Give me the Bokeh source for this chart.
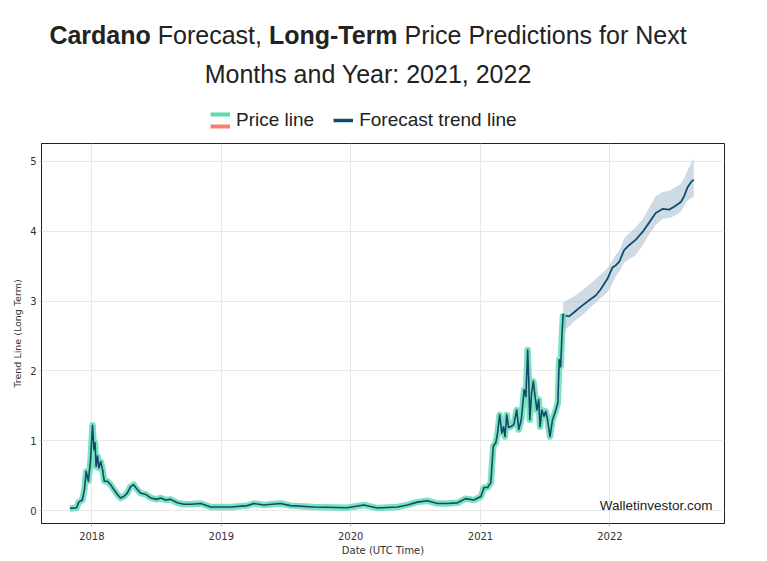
import pandas as pd
from bokeh.plotting import figure
from bokeh.models import (Div, Legend, LegendItem, Label, FixedTicker,
                          DatetimeTickFormatter, Range1d)
from bokeh.layouts import column
from bokeh.embed import file_html
from bokeh.resources import INLINE

# ---------------- data ----------------
price_dates = [
    "2017-10-31", "2017-11-19", "2017-11-25", "2017-12-05", "2017-12-11", "2017-12-16",
    "2017-12-22", "2017-12-28", "2018-01-03", "2018-01-07", "2018-01-10", "2018-01-13",
    "2018-01-17", "2018-01-21", "2018-01-26", "2018-01-31", "2018-02-05", "2018-02-14",
    "2018-02-23", "2018-03-04", "2018-03-14", "2018-03-23", "2018-04-01", "2018-04-11",
    "2018-04-20", "2018-04-29", "2018-05-09", "2018-05-18", "2018-06-02", "2018-06-16",
    "2018-07-04", "2018-07-14", "2018-07-28", "2018-08-11", "2018-08-30", "2018-09-18",
    "2018-10-07", "2018-11-04", "2018-12-02", "2018-12-31", "2019-01-27", "2019-03-15",
    "2019-04-03", "2019-05-01", "2019-06-17", "2019-07-15", "2019-09-19", "2019-12-22",
    "2020-02-07", "2020-03-16", "2020-05-12", "2020-06-09", "2020-07-07", "2020-08-04",
    "2020-09-01", "2020-09-30", "2020-10-28", "2020-11-20", "2020-12-13", "2021-01-02",
    "2021-01-11", "2021-01-21", "2021-01-30", "2021-02-06", "2021-02-13", "2021-02-18",
    "2021-02-24", "2021-03-02", "2021-03-07", "2021-03-11", "2021-03-16", "2021-03-21",
    "2021-03-27", "2021-04-05", "2021-04-13", "2021-04-19", "2021-04-26", "2021-05-04",
    "2021-05-09", "2021-05-14", "2021-05-17", "2021-05-20", "2021-05-25", "2021-05-30",
    "2021-06-04", "2021-06-09", "2021-06-14", "2021-06-18", "2021-06-23", "2021-06-29",
    "2021-07-04", "2021-07-09", "2021-07-16", "2021-07-23", "2021-07-30", "2021-08-07",
    "2021-08-11", "2021-08-15", "2021-08-19", "2021-08-22",
]
price_values = [
    0.03, 0.04, 0.12, 0.15, 0.30, 0.56,
    0.42, 0.70, 1.22, 0.87, 0.97, 0.63,
    0.78, 0.61, 0.70, 0.59, 0.42, 0.42,
    0.37, 0.30, 0.23, 0.18, 0.20, 0.25,
    0.34, 0.37, 0.30, 0.25, 0.23, 0.18,
    0.16, 0.18, 0.15, 0.16, 0.11, 0.09,
    0.09, 0.10, 0.05, 0.05, 0.05, 0.07,
    0.10, 0.08, 0.10, 0.07, 0.05, 0.04,
    0.08, 0.035, 0.05, 0.08, 0.12, 0.14,
    0.10, 0.10, 0.11, 0.17, 0.15, 0.20,
    0.33, 0.33, 0.40, 0.92, 0.97, 1.11,
    1.37, 1.11, 1.20, 1.06, 1.37, 1.19,
    1.20, 1.23, 1.44, 1.16, 1.30, 1.73,
    1.63, 2.30, 1.87, 1.30, 1.68, 1.85,
    1.63, 1.44, 1.59, 1.20, 1.44, 1.35,
    1.42, 1.30, 1.06, 1.30, 1.40, 1.54,
    2.16, 2.06, 2.55, 2.82,
]

forecast_dates = [
    "2021-08-22", "2021-09-08", "2021-09-22", "2021-10-11", "2021-11-08", "2021-11-22",
    "2021-12-06", "2021-12-25", "2022-01-08", "2022-01-17", "2022-01-27", "2022-02-10",
    "2022-02-24", "2022-03-15", "2022-04-03", "2022-04-21", "2022-05-10", "2022-05-29",
    "2022-06-17", "2022-07-01", "2022-07-20", "2022-07-29", "2022-08-08", "2022-08-17",
    "2022-08-25",
]
forecast_values = [
    2.80, 2.78, 2.84, 2.92, 3.03, 3.08,
    3.17, 3.32, 3.48, 3.51, 3.56, 3.73,
    3.80, 3.88, 3.99, 4.12, 4.26, 4.32,
    4.31, 4.35, 4.42, 4.50, 4.63, 4.70,
    4.74,
]
forecast_upper = [
    2.98, 3.03, 3.07, 3.14, 3.25, 3.32,
    3.38, 3.47, 3.58, 3.66, 3.72, 3.90,
    3.97, 4.06, 4.17, 4.33, 4.50, 4.56,
    4.58, 4.62, 4.68, 4.76, 4.87, 4.97,
    5.05,
]
forecast_lower = [
    2.58, 2.64, 2.71, 2.78, 2.91, 2.98,
    3.04, 3.13, 3.25, 3.35, 3.42, 3.55,
    3.60, 3.66, 3.80, 3.95, 4.09, 4.18,
    4.19, 4.22, 4.28, 4.36, 4.44, 4.47,
    4.49,
]

legend_labels = ["Price line", "Forecast trend line"]
x_tick_years = [2018, 2019, 2020, 2021, 2022]
y_ticks = [0, 1, 2, 3, 4, 5]

TEAL = "#5adcb0"
SALMON = "#f7826c"
NAVY = "#0d4d72"

# ---------------- main figure ----------------
px = pd.to_datetime(price_dates)
fx = pd.to_datetime(forecast_dates)

p = figure(width=760, height=420, x_axis_type="datetime",
           output_backend="svg", toolbar_location=None,
           x_range=Range1d(pd.Timestamp("2017-08-12"), pd.Timestamp("2022-11-20")),
           y_range=Range1d(-0.186, 5.257),
           min_border_left=41, min_border_right=36,
           min_border_top=5, min_border_bottom=34,
           background_fill_color="white", border_fill_color="white")

p.outline_line_color = "#222222"
p.outline_line_width = 1

p.xgrid.grid_line_color = "#e8e8e8"
p.ygrid.grid_line_color = "#e8e8e8"

p.xaxis.ticker = FixedTicker(ticks=[pd.Timestamp(f"{y}-01-01").value // 10**6 for y in x_tick_years])
p.xaxis.formatter = DatetimeTickFormatter(years="%Y", months="%Y", days="%Y", hours="%Y")
p.yaxis.ticker = FixedTicker(ticks=y_ticks)

for ax in (p.xaxis[0], p.yaxis[0]):
    ax.axis_line_color = "#222222"
    ax.major_tick_in = 0
    ax.major_tick_line_color = "#bbbbbb"
    ax.minor_tick_line_color = None
    ax.major_label_text_font = "DejaVu Sans"
    ax.major_label_text_font_size = "10px"
    ax.major_label_text_color = "#333333"
    ax.axis_label_text_font = "DejaVu Sans"
    ax.axis_label_text_font_style = "normal"
    ax.axis_label_text_color = "#333333"

p.xaxis.major_tick_out = 3
p.xaxis.major_label_standoff = 5
p.xaxis.axis_label = "Date (UTC Time)"
p.xaxis.axis_label_text_font_size = "10px"
p.xaxis.axis_label_standoff = 2

p.yaxis.major_tick_out = 2
p.yaxis.major_label_standoff = 3
p.yaxis.axis_label = "Trend Line (Long Term)"
p.yaxis.axis_label_text_font_size = "9.5px"
p.yaxis.axis_label_standoff = 4

# forecast band + line
p.varea(x=fx, y1=forecast_lower, y2=forecast_upper,
        fill_color="#9db5c9", fill_alpha=0.5)
p.line(fx, forecast_values, line_color=NAVY, line_width=1.8)

# price line (glow + dark centre)
p.line(px, price_values, line_color=TEAL, line_width=6.5,
       line_alpha=0.8, line_join="round")
p.line(px, price_values, line_color="#17476b", line_width=1.6, line_join="round")

# watermark
p.add_layout(Label(x=pd.Timestamp("2022-10-17"), y=0.07, text="Walletinvestor.com",
                   text_align="right", text_baseline="middle",
                   text_font="Liberation Sans", text_font_size="13.5px",
                   text_color="#222222"))

# ---------------- legend strip ----------------
# A thin strip above the plot that only holds the legend. Its renderers use the
# real series but lie far outside this strip's ranges, so only their legend
# icons show.
lg = figure(width=760, height=50, output_backend="svg", toolbar_location=None,
            x_range=Range1d(0, 1), y_range=Range1d(0, 1),
            x_axis_location=None, y_axis_location=None,
            min_border=0, min_border_left=0, min_border_right=0,
            min_border_top=0, min_border_bottom=0,
            outline_line_color=None)
lg.xgrid.visible = False
lg.ygrid.visible = False
r_price_text = lg.line(px, price_values, line_alpha=0)
r_price_top = lg.line(px, price_values, line_color=TEAL, line_width=4)
r_price_bot = lg.line(px, price_values, line_color=SALMON, line_width=4)
r_fc = lg.line(fx, forecast_values, line_color=NAVY, line_width=3.5)

common = dict(orientation="horizontal", border_line_color=None,
              background_fill_alpha=0, padding=0, margin=0, spacing=19,
              glyph_width=20, glyph_height=16, label_standoff=6, label_height=16,
              label_text_font="Liberation Sans", label_text_font_size="19px",
              label_text_color="#222222")

legend = Legend(items=[LegendItem(label=legend_labels[0], renderers=[r_price_text]),
                       LegendItem(label=legend_labels[1], renderers=[r_fc])],
                location=(169, 7), **common)
legend_top = Legend(items=[LegendItem(label=" ", renderers=[r_price_top])],
                    location=(169, 16), **common)
legend_bot = Legend(items=[LegendItem(label=" ", renderers=[r_price_bot])],
                    location=(169, 4), **common)
lg.add_layout(legend_top)
lg.add_layout(legend_bot)
lg.add_layout(legend)

# ---------------- title ----------------
title_html = (
    '<div style="width:736px;text-align:center;'
    "font-family:'Liberation Sans',Arial,sans-serif;"
    'font-size:25px;line-height:39px;color:#222222;padding-top:16px;">'
    '<b>Cardano</b> Forecast, <b>Long-Term</b> Price Predictions for Next<br>'
    'Months and Year: 2021, 2022</div>'
)
div = Div(text=title_html, width=760, height=88, margin=(0, 0, 0, 0))

layout = column(div, lg, p, spacing=0)

open("out.html", "w").write(file_html(layout, INLINE))
